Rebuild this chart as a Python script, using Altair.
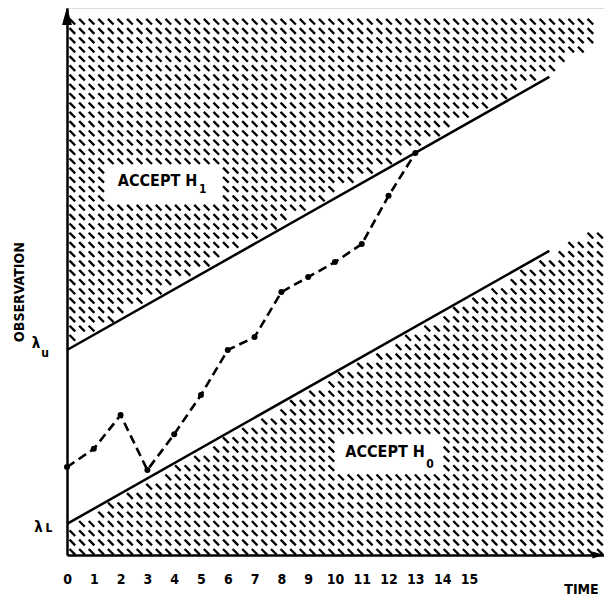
import altair as alt
import numpy as np
import pandas as pd

# ---- values (time units on x, observation units on y) ----
time = list(range(14))
observation = [3.28, 3.96, 5.22, 3.17, 4.51, 5.97, 7.65, 8.13, 9.81, 10.37, 10.93, 11.60, 13.40, 15.00]
lambda_L = 1.16
lambda_U = 7.65
slope = 0.566
t_end = 18.0
tick_values = list(range(16))

X_MAX = 20.04
Y_MAX = 20.41
W, H = 537, 547
FONT = "DejaVu Sans Condensed, Liberation Sans Narrow, DejaVu Sans"

xs = alt.Scale(domain=[0, X_MAX], nice=False, zero=False)
ys = alt.Scale(domain=[0, Y_MAX], nice=False, zero=False)

# ---- boundary lines ----
bounds = pd.DataFrame({
    "t": [0, t_end, 0, t_end],
    "v": [lambda_U, lambda_U + slope * t_end, lambda_L, lambda_L + slope * t_end],
    "b": ["upper", "upper", "lower", "lower"],
})

obs = pd.DataFrame({"t": time, "v": observation})

# ---- hatch texture for the two decision regions ----
gx = np.arange(0.2, X_MAX, 0.358)
gy = np.arange(0.12, 20.2, 0.347)
TT, YY = np.meshgrid(gx, gy)
TT = TT.ravel(); YY = YY.ravel()
up = lambda_U + slope * TT
lo = lambda_L + slope * TT
upper_end = lambda_U + slope * 17.9
right_bound = np.minimum(19.6, 17.9 + 1.53 * (YY - upper_end))
in_upper = (YY > up + 0.22) & (YY <= 20.15) & (TT <= right_bound)
in_lower = (YY < lo - 0.22) & (TT <= 19.9)
box1 = (TT > 1.4) & (TT < 5.7) & (YY > 13.3) & (YY < 14.5)
box2 = (TT > 10.0) & (TT < 13.9) & (YY > 3.15) & (YY < 4.35)
keep = (in_upper | in_lower) & ~box1 & ~box2
hatch = pd.DataFrame({"t": TT[keep], "v": YY[keep]})

# ---- texts ----
labels = pd.DataFrame({
    "text": ["ACCEPT H", "1", "ACCEPT H", "0", "TIME", "OBSERVATION", "λ", "u", "λ", "L"],
    "t":    [3.38, 5.07, 11.87, 13.55, 19.2, -1.75, -1.16, -0.82, -1.06, -0.67],
    "v":    [13.95, 13.65, 3.84, 3.40, -1.30, 9.81, 7.90, 7.55, 1.06, 1.01],
    "fs":   [16, 12, 16, 12, 14, 14, 15, 12, 15, 12],
    "ang":  [0, 0, 0, 0, 0, 270, 0, 0, 0, 0],
})

arrows = pd.DataFrame({"t": [0.0], "v": [20.11]})
arrows_x = pd.DataFrame({"t": [19.83], "v": [0.0]})

X = alt.X("t:Q", scale=xs, axis=alt.Axis(values=tick_values, format="d", title=None, ticks=False,
                                          grid=False, domainColor="black", domainWidth=2.5,
                                          labelFont=FONT, labelFontSize=14, labelFontWeight="bold",
                                          labelColor="black", labelPadding=17, labelFlush=False,
                                          labelOverlap=False, tickCount=16))
Y = alt.Y("v:Q", scale=ys, axis=alt.Axis(title=None, ticks=False, labels=False, grid=False,
                                          domainColor="black", domainWidth=2.5))

hatch_layer = alt.Chart(hatch).mark_point(
    shape="M -1 -1 L 1 1", filled=False, stroke="black", strokeWidth=2.3, size=32, opacity=1, clip=False
).encode(x=X, y=Y)

bound_layer = alt.Chart(bounds).mark_line(color="black", strokeWidth=2.5).encode(
    x=X, y=Y, detail="b:N")

obs_line = alt.Chart(obs).mark_line(color="black", strokeWidth=2.6, strokeDash=[9, 5]).encode(
    x=X, y=Y)
obs_pts = alt.Chart(obs).mark_circle(color="black", size=36, opacity=1).encode(x=X, y=Y)

text_layer = alt.Chart(labels).mark_text(
    font=FONT, fontWeight="bold", color="black", align="center", baseline="middle", clip=False
).encode(
    x=X, y=Y, text="text:N",
    size=alt.Size("fs:Q", scale=None, legend=None), angle=alt.Angle("ang:Q", scale=None),
)

arrow_up = alt.Chart(arrows).mark_point(
    shape="M 0 -1 L 0.55 1 L -0.55 1 Z", filled=True, color="black", size=324, opacity=1, clip=False
).encode(x=X, y=Y)
arrow_right = alt.Chart(arrows_x).mark_point(
    shape="M 1 0 L -1 -0.6 L -1 0.6 Z", filled=True, color="black", size=144, opacity=1, clip=False
).encode(x=X, y=Y)

chart = alt.layer(
    hatch_layer, bound_layer, obs_line, obs_pts, text_layer, arrow_up, arrow_right
).properties(
    width=W, height=H,
    autosize=alt.AutoSizeParams(type="none"),
    padding={"left": 59, "top": 0, "right": 0, "bottom": 42},
).configure_view(stroke=None).configure(background="white")

chart.save("out.html", embed_options={"renderer": "svg", "actions": False})
